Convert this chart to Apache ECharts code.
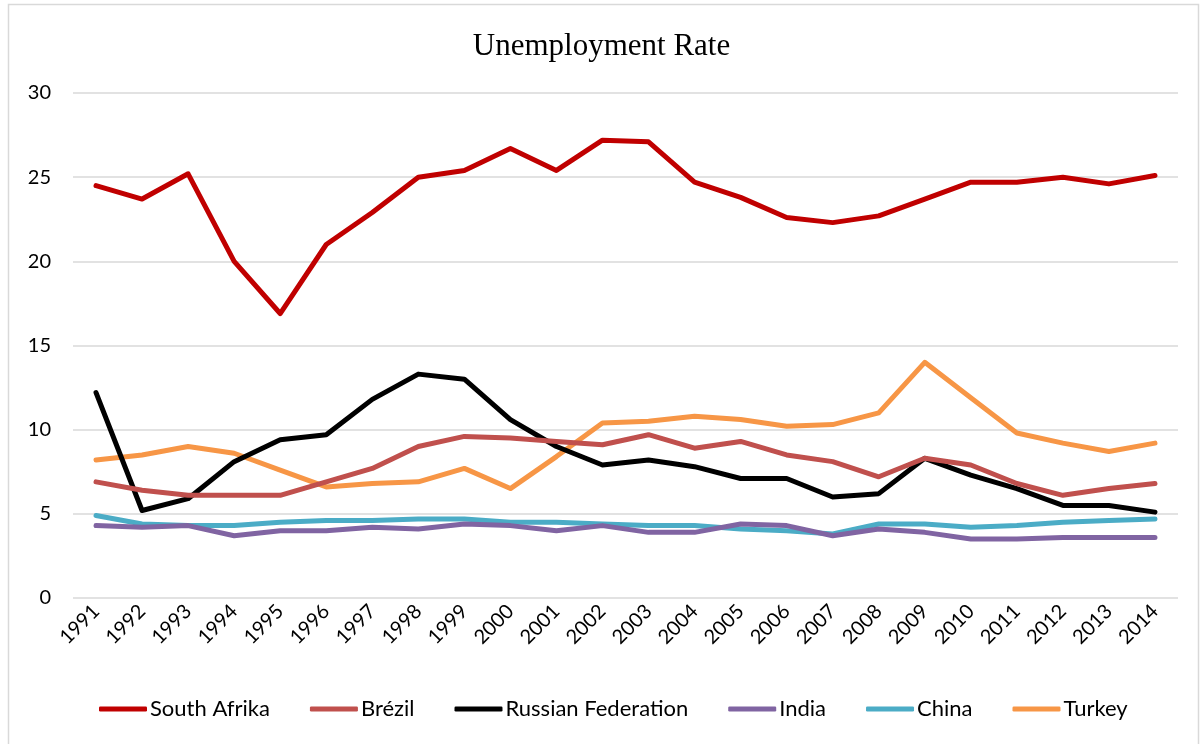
<!DOCTYPE html>
<html>
<head>
<meta charset="utf-8">
<script src="https://cdn.jsdelivr.net/npm/echarts@6/dist/echarts.min.js"></script>
<style>
  html, body { margin: 0; padding: 0; background: #fff; }
  #chart { width: 1203px; height: 744px; }
</style>
</head>
<body>
<div id="chart"></div>
<script>
var years = ['1991','1992','1993','1994','1995','1996','1997','1998','1999','2000','2001','2002',
             '2003','2004','2005','2006','2007','2008','2009','2010','2011','2012','2013','2014'];

var southAfrika = [24.5, 23.7, 25.2, 20.0, 16.9, 21.0, 22.9, 25.0, 25.4, 26.7, 25.4, 27.2,
                   27.1, 24.7, 23.8, 22.6, 22.3, 22.7, 23.7, 24.7, 24.7, 25.0, 24.6, 25.1];
var bresil = [6.9, 6.4, 6.1, 6.1, 6.1, 6.9, 7.7, 9.0, 9.6, 9.5, 9.3, 9.1,
              9.7, 8.9, 9.3, 8.5, 8.1, 7.2, 8.3, 7.9, 6.8, 6.1, 6.5, 6.8];
var russia = [12.2, 5.2, 5.9, 8.1, 9.4, 9.7, 11.8, 13.3, 13.0, 10.6, 9.0, 7.9,
              8.2, 7.8, 7.1, 7.1, 6.0, 6.2, 8.3, 7.3, 6.5, 5.5, 5.5, 5.1];
var india = [4.3, 4.2, 4.3, 3.7, 4.0, 4.0, 4.2, 4.1, 4.4, 4.3, 4.0, 4.3,
             3.9, 3.9, 4.4, 4.3, 3.7, 4.1, 3.9, 3.5, 3.5, 3.6, 3.6, 3.6];
var china = [4.9, 4.4, 4.3, 4.3, 4.5, 4.6, 4.6, 4.7, 4.7, 4.5, 4.5, 4.4,
             4.3, 4.3, 4.1, 4.0, 3.8, 4.4, 4.4, 4.2, 4.3, 4.5, 4.6, 4.7];
var turkey = [8.2, 8.5, 9.0, 8.6, 7.6, 6.6, 6.8, 6.9, 7.7, 6.5, 8.4, 10.4,
              10.5, 10.8, 10.6, 10.2, 10.3, 11.0, 14.0, 11.9, 9.8, 9.2, 8.7, 9.2];

var names = ['South Afrika', 'Brézil', 'Russian Federation', 'India', 'China', 'Turkey'];
var colors = ['#C00000', '#C0504D', '#000000', '#8064A2', '#4BACC6', '#F79646'];
var values = [southAfrika, bresil, russia, india, china, turkey];

var myChart = echarts.init(document.getElementById('chart'));

var font = 'Lato, "Open Sans", sans-serif';

var series = [];
for (var i = 0; i < names.length; i++) {
  series.push({
    name: names[i],
    type: 'line',
    data: values[i],
    symbol: 'none',
    z: 10 - i,
    lineStyle: { width: 5, color: colors[i], cap: 'round', join: 'round' },
    itemStyle: { color: colors[i] }
  });
}

var option = {
  animation: false,
  backgroundColor: '#fff',
  graphic: [{
    type: 'rect',
    shape: { x: 8.5, y: 4.5, width: 1190, height: 745 },
    style: { fill: 'none', stroke: '#d9d9d9', lineWidth: 1.5 },
    silent: true
  }],
  title: {
    text: 'Unemployment Rate',
    left: 'center',
    top: 26,
    textStyle: {
      fontFamily: '"Liberation Serif", "DejaVu Serif", serif',
      fontWeight: 'normal',
      fontSize: 31,
      color: '#000'
    }
  },
  grid: { left: 73, right: 25, top: 93, bottom: 146 },
  legend: {
    bottom: 19,
    left: 94,
    itemWidth: 48,
    itemHeight: 5,
    itemGap: 40,
    icon: 'roundRect',
    textStyle: { fontFamily: font, fontSize: 22, color: '#000', padding: [0, 0, 0, -2] },
    data: names
  },
  xAxis: {
    type: 'category',
    data: years,
    boundaryGap: true,
    axisLine: { show: false },
    axisTick: { show: false },
    axisLabel: {
      rotate: 45,
      interval: 0,
      margin: 10,
      fontFamily: font,
      fontSize: 20,
      color: '#000'
    }
  },
  yAxis: {
    type: 'value',
    min: 0,
    max: 30,
    interval: 5,
    axisLine: { show: false },
    axisTick: { show: false },
    splitLine: { lineStyle: { color: '#d9d9d9', width: 1.5 } },
    axisLabel: {
      margin: 22,
      fontFamily: font,
      fontSize: 20,
      color: '#000'
    }
  },
  series: series
};

myChart.setOption(option);
</script>
</body>
</html>
